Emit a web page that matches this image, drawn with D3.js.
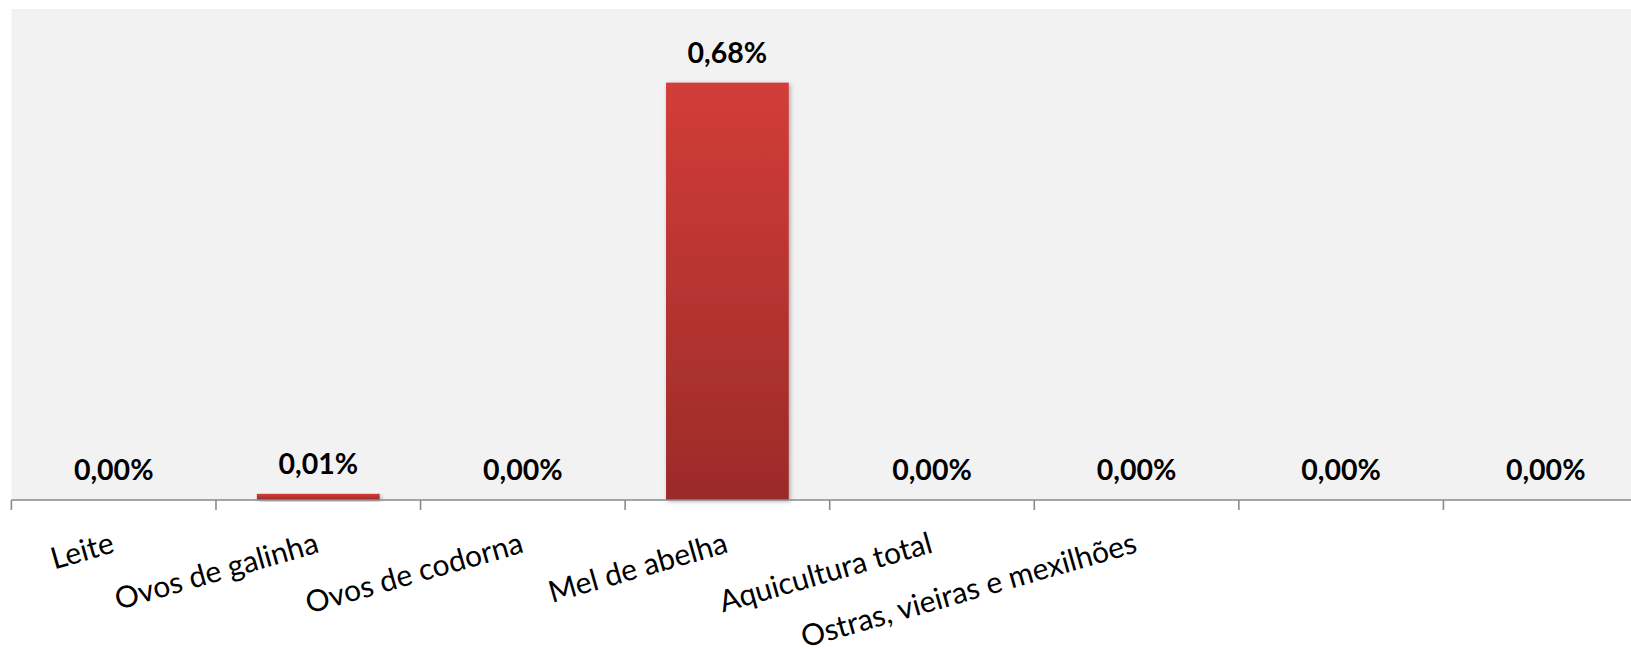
<!DOCTYPE html>
<html>
<head>
<meta charset="utf-8">
<script src="https://cdn.jsdelivr.net/npm/d3@7"></script>
<style>
  html, body { margin: 0; padding: 0; background: #ffffff; }
  svg { display: block; }
</style>
</head>
<body>
<svg id="chart" width="1631" height="649"></svg>
<script>
// ---- data ----
const categories = ["Leite", "Ovos de galinha", "Ovos de codorna", "Mel de abelha",
                    "Aquicultura total", "Ostras, vieiras e mexilhões", "", ""];
const values = [0.00, 0.01, 0.00, 0.68, 0.00, 0.00, 0.00, 0.00]; // percent
const yDomain = [0, 0.8];

// ---- layout ----
const W = 1631, H = 649;
const plot = { left: 11.4, top: 9, bottom: 500, right: 1648 };

const svg = d3.select("#chart");
const defs = svg.append("defs");

const grad = defs.append("linearGradient")
  .attr("id", "barGrad").attr("x1", 0).attr("y1", 0).attr("x2", 0).attr("y2", 1);
grad.append("stop").attr("offset", "0%").attr("stop-color", "#d23d38");
grad.append("stop").attr("offset", "100%").attr("stop-color", "#9b2b29");

const shadow = defs.append("filter").attr("id", "shadow")
  .attr("x", "-10%").attr("y", "-10%").attr("width", "130%").attr("height", "130%");
shadow.append("feDropShadow").attr("dx", 1.5).attr("dy", 1.5)
  .attr("stdDeviation", 2).attr("flood-color", "#000").attr("flood-opacity", 0.3);

const idx = d3.range(categories.length);
const x = d3.scaleBand().domain(idx).range([plot.left, plot.right])
  .paddingInner(0.4).paddingOuter(0.2);
const y = d3.scaleLinear().domain(yDomain).range([plot.bottom, plot.top]);

const locale = d3.formatLocale({ decimal: ",", thousands: ".", grouping: [3], currency: ["", ""] });
const fmt = v => locale.format(".2f")(v) + "%";

// plot area background
svg.append("rect")
  .attr("x", plot.left).attr("y", plot.top)
  .attr("width", plot.right - plot.left).attr("height", plot.bottom - plot.top)
  .attr("fill", "#f2f2f2");

// bars
svg.append("g").selectAll("rect").data(idx).join("rect")
  .attr("x", i => x(i))
  .attr("y", i => y(values[i]))
  .attr("width", x.bandwidth())
  .attr("height", i => plot.bottom - y(values[i]))
  .attr("fill", "url(#barGrad)")
  .attr("filter", "url(#shadow)");

// x axis with ticks at category boundaries
const step = x.step();
const boundaries = idx.map(i => x(i) + x.bandwidth() / 2 - step / 2).concat([plot.right]);
const axisG = svg.append("g");
axisG.append("line")
  .attr("x1", plot.left).attr("x2", plot.right)
  .attr("y1", plot.bottom).attr("y2", plot.bottom)
  .attr("stroke", "#8a8a8a").attr("stroke-width", 1.6);
axisG.selectAll("line.tick").data(boundaries).join("line")
  .attr("class", "tick")
  .attr("x1", d => d).attr("x2", d => d)
  .attr("y1", plot.bottom).attr("y2", plot.bottom + 10)
  .attr("stroke", "#8a8a8a").attr("stroke-width", 1.6);

// category labels (empty names draw nothing)
axisG.selectAll("text.cat").data(idx.filter(i => categories[i] !== "")).join("text")
  .attr("class", "cat")
  .attr("transform", i => `translate(${x(i) + x.bandwidth() / 2 + 2},552) rotate(-16)`)
  .attr("text-anchor", "end")
  .attr("font-family", "Lato, 'Open Sans', sans-serif")
  .attr("font-size", 30)
  .attr("fill", "#000")
  .text(i => categories[i]);

// value labels
svg.append("g").selectAll("text").data(idx).join("text")
  .attr("x", i => x(i) + x.bandwidth() / 2)
  .attr("y", i => y(values[i]) - 20)
  .attr("text-anchor", "middle")
  .attr("font-family", "Lato, 'Open Sans', sans-serif")
  .attr("font-weight", "bold")
  .attr("font-size", 28.5)
  .attr("fill", "#000")
  .text(i => fmt(values[i]));
</script>
</body>
</html>
